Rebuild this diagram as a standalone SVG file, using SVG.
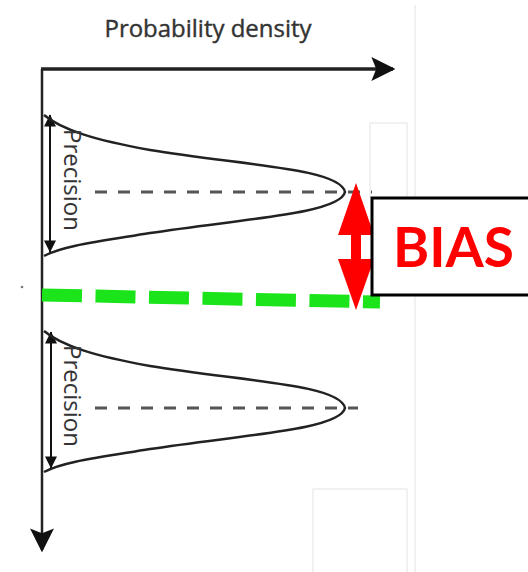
<svg xmlns="http://www.w3.org/2000/svg" width="528" height="572" viewBox="0 0 528 572">
  <style>
    .faint { stroke: #ededed; stroke-width: 1.5; fill: none; }
    .axis { stroke: #222; fill: none; }
    .curve { stroke: #222; stroke-width: 2.5; fill: none; }
    .mean { stroke: #555; stroke-width: 3; stroke-dasharray: 12 11; fill: none; }
    .prec { stroke: #111; stroke-width: 2; fill: none; }
    .lbl { font-family: "Open Sans", "DejaVu Sans", sans-serif; fill: #333333; font-size: 24px; }
  </style>
  <defs>
    <marker id="axhead" viewBox="0 0 10 10" refX="9" refY="5" markerWidth="24" markerHeight="24" markerUnits="userSpaceOnUse" orient="auto">
      <path d="M0,0 L10,5 L0,10 L2,5 Z" fill="#111"/>
    </marker>
    <marker id="phead" viewBox="0 0 10 10" refX="9.5" refY="5" markerWidth="15" markerHeight="12" markerUnits="userSpaceOnUse" orient="auto-start-reverse">
      <path d="M0,0 L10,5 L0,10 Z" fill="#111"/>
    </marker>
  </defs>
  <rect x="0" y="0" width="528" height="572" fill="#ffffff"/>

  <g id="background-artifacts">
    <line class="faint" x1="415" y1="5" x2="415" y2="572"/>
    <polyline class="faint" points="370,198 370,123 407,123 407,198"/>
    <polyline class="faint" points="313,572 313,489 407,489 407,572"/>
    <circle cx="22" cy="287" r="1.3" fill="#777"/>
  </g>

  <g id="title">
    <text class="lbl" x="208" y="37" text-anchor="middle" stroke="#333" stroke-width="0.4" textLength="207" lengthAdjust="spacingAndGlyphs">Probability density</text>
  </g>

  <g id="connectors">
    <line class="axis" x1="41" y1="69" x2="393" y2="69" stroke-width="3.5" marker-end="url(#axhead)"/>
    <line class="axis" x1="42" y1="69" x2="42" y2="550" stroke-width="2.5" marker-end="url(#axhead)"/>
    <line class="prec" x1="50" y1="115" x2="50" y2="252" marker-start="url(#phead)" marker-end="url(#phead)"/>
    <line class="prec" x1="51" y1="332" x2="51" y2="468" marker-start="url(#phead)" marker-end="url(#phead)"/>
  </g>

  <g id="upper-distribution">
    <line class="mean" x1="95" y1="192" x2="372" y2="192"/>
    <path class="curve" d="M44,115 C62,130 95,140 150,150 C240,165 340,168 345,192 C340,214 240,219 150,233 C95,242 62,246 44,256"/>
    <text class="lbl" transform="translate(64,180) rotate(90)" text-anchor="middle">Precision</text>
  </g>

  <g id="lower-distribution">
    <line class="mean" x1="95" y1="408" x2="358" y2="408"/>
    <path class="curve" transform="translate(0,216)" d="M44,115 C62,130 95,140 150,150 C240,165 340,168 345,192 C340,214 240,219 150,233 C95,242 62,246 44,256"/>
    <text class="lbl" transform="translate(64,396) rotate(90)" text-anchor="middle">Precision</text>
  </g>

  <g id="true-value">
    <line x1="42" y1="295" x2="380" y2="302" stroke="#1be41b" stroke-width="13" stroke-dasharray="40 13.5"/>
  </g>

  <g id="bias-arrow">
    <polygon points="356,183 374,235 361,235 361,259 374,259 356,310 338,259 351,259 351,235 338,235" fill="#ff0000"/>
  </g>

  <g id="bias-box">
    <rect x="372" y="198" width="170" height="97" fill="#ffffff" stroke="#000" stroke-width="3"/>
    <text x="393" y="267" font-family="Lato, 'Open Sans', sans-serif" font-weight="bold" font-size="55" fill="#ff0000">BIAS</text>
  </g>
</svg>
